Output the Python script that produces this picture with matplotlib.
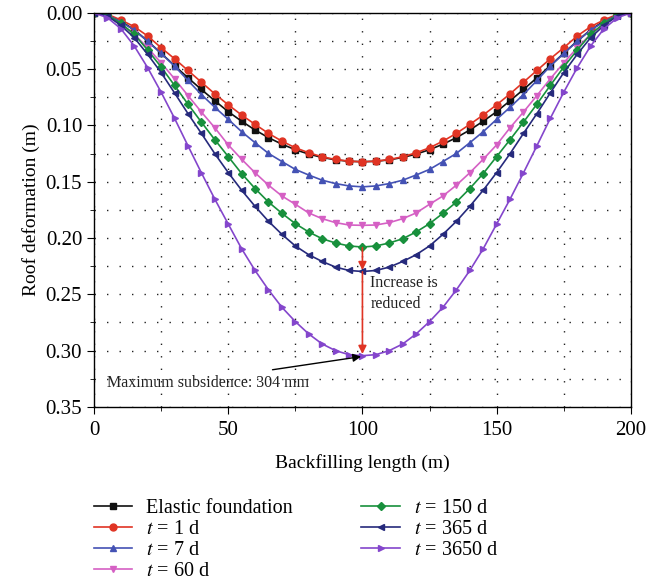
import matplotlib
matplotlib.use("Agg")
import matplotlib.pyplot as plt
from matplotlib.ticker import MultipleLocator, FormatStrFormatter

plt.rcParams["font.family"] = ["Liberation Serif", "DejaVu Serif"]
plt.rcParams["mathtext.fontset"] = "stix"

# backfilling length, one point every 5 m
x = list(range(0, 201, 5))

# roof deformation (m)
elastic = [0.0, 0.0018, 0.0072, 0.0150, 0.0250, 0.0358, 0.0468, 0.0576, 0.0680, 0.0780,
           0.0877, 0.0962, 0.1040, 0.1108, 0.1166, 0.1215, 0.1254, 0.1284, 0.1305, 0.1318,
           0.1322,
           0.1318, 0.1305, 0.1284, 0.1254, 0.1215, 0.1166, 0.1108, 0.1040, 0.0962, 0.0877,
           0.0780, 0.0680, 0.0576, 0.0468, 0.0358, 0.0250, 0.0150, 0.0072, 0.0018, 0.0]
t1 = [0.0, 0.0012, 0.0062, 0.0122, 0.0205, 0.0309, 0.0407, 0.0511, 0.0615, 0.0719,
      0.0816, 0.0907, 0.0990, 0.1070, 0.1139, 0.1198, 0.1242, 0.1278, 0.1302, 0.1317,
      0.1322,
      0.1317, 0.1302, 0.1278, 0.1242, 0.1198, 0.1139, 0.1070, 0.0990, 0.0907, 0.0816,
      0.0719, 0.0615, 0.0511, 0.0407, 0.0309, 0.0205, 0.0122, 0.0062, 0.0012, 0.0]
t7 = [0.0, 0.0018, 0.0080, 0.0152, 0.0252, 0.0360, 0.0472, 0.0600, 0.0725, 0.0838,
      0.0945, 0.1055, 0.1153, 0.1248, 0.1320, 0.1390, 0.1440, 0.1486, 0.1516, 0.1537,
      0.1545,
      0.1537, 0.1516, 0.1486, 0.1440, 0.1390, 0.1320, 0.1248, 0.1153, 0.1055, 0.0945,
      0.0838, 0.0725, 0.0600, 0.0472, 0.0360, 0.0252, 0.0152, 0.0080, 0.0018, 0.0]
t60 = [0.0, 0.0020, 0.0100, 0.0190, 0.0310, 0.0443, 0.0585, 0.0734, 0.0880, 0.1020,
       0.1172, 0.1300, 0.1420, 0.1530, 0.1626, 0.1700, 0.1777, 0.1828, 0.1863, 0.1884,
       0.1887,
       0.1884, 0.1863, 0.1828, 0.1777, 0.1700, 0.1626, 0.1530, 0.1420, 0.1300, 0.1172,
       0.1020, 0.0880, 0.0734, 0.0585, 0.0443, 0.0310, 0.0190, 0.0100, 0.0020, 0.0]
t150 = [0.0, 0.0020, 0.0092, 0.0190, 0.0330, 0.0480, 0.0644, 0.0810, 0.0970, 0.1126,
        0.1276, 0.1427, 0.1560, 0.1680, 0.1780, 0.1872, 0.1946, 0.2006, 0.2044, 0.2070,
        0.2080,
        0.2070, 0.2044, 0.2006, 0.1946, 0.1872, 0.1780, 0.1680, 0.1560, 0.1427, 0.1276,
        0.1126, 0.0970, 0.0810, 0.0644, 0.0480, 0.0330, 0.0190, 0.0092, 0.0020, 0.0]
t365 = [0.0, 0.0027, 0.0110, 0.0220, 0.0368, 0.0530, 0.0710, 0.0894, 0.1070, 0.1250,
        0.1418, 0.1575, 0.1718, 0.1851, 0.1967, 0.2070, 0.2148, 0.2208, 0.2258, 0.2288,
        0.2297,
        0.2288, 0.2258, 0.2208, 0.2148, 0.2070, 0.1967, 0.1851, 0.1718, 0.1575, 0.1418,
        0.1250, 0.1070, 0.0894, 0.0710, 0.0530, 0.0368, 0.0220, 0.0110, 0.0027, 0.0]
t3650 = [0.0, 0.0042, 0.0140, 0.0294, 0.0487, 0.0704, 0.0936, 0.1180, 0.1420, 0.1654,
         0.1875, 0.2095, 0.2288, 0.2460, 0.2615, 0.2742, 0.2852, 0.2941, 0.3000, 0.3036,
         0.3045,
         0.3036, 0.3000, 0.2941, 0.2852, 0.2742, 0.2615, 0.2460, 0.2288, 0.2095, 0.1875,
         0.1654, 0.1420, 0.1180, 0.0936, 0.0704, 0.0487, 0.0294, 0.0140, 0.0042, 0.0]

series = [
    ("Elastic foundation", elastic, "#111111", "s"),
    ("$t$ = 1 d", t1, "#e03424", "o"),
    ("$t$ = 7 d", t7, "#4452b4", "^"),
    ("$t$ = 60 d", t60, "#d560c4", "v"),
    ("$t$ = 150 d", t150, "#18903c", "D"),
    ("$t$ = 365 d", t365, "#262a7c", "<"),
    ("$t$ = 3650 d", t3650, "#8446cc", ">"),
]

fig = plt.figure(figsize=(6.69, 5.88), dpi=100)
ax = fig.add_axes([0.1405, 0.308, 0.8025, 0.670])

for label, vals, color, marker in series:
    ms = 4.0 if marker == "D" else 5.0
    ax.plot(x, vals, color=color, marker=marker, markersize=ms,
            linewidth=1.2, label=label)

ax.set_xlim(0, 200)
ax.set_ylim(0.35, 0.0)
ax.xaxis.set_major_locator(MultipleLocator(50))
ax.xaxis.set_minor_locator(MultipleLocator(25))
ax.yaxis.set_major_locator(MultipleLocator(0.05))
ax.yaxis.set_minor_locator(MultipleLocator(0.025))
ax.yaxis.set_major_formatter(FormatStrFormatter("%.2f"))
ax.tick_params(which="major", direction="out", length=5, labelsize=15)
ax.tick_params(axis="x", which="major", pad=5)
ax.tick_params(which="minor", direction="out", length=3)
ax.grid(which="both", color="#222222", linestyle=(0, (1, 8)), linewidth=1.0)
for s in ax.spines.values():
    s.set_linewidth(1.0)

ax.set_xlabel("Backfilling length (m)", fontsize=14, labelpad=10)
ax.set_ylabel("Roof deformation (m)", fontsize=14, labelpad=4)

# arrows showing reduced increase
ax.annotate("", xy=(100, 0.2285), xytext=(100, 0.2085),
            arrowprops=dict(arrowstyle="-|>", color="#e03424", lw=1.2,
                            shrinkA=0, shrinkB=0, mutation_scale=12))
ax.annotate("", xy=(100, 0.3030), xytext=(100, 0.2300),
            arrowprops=dict(arrowstyle="-|>", color="#e03424", lw=1.2,
                            shrinkA=0, shrinkB=0, mutation_scale=12))
ax.text(103, 0.2495, "Increase is\nreduced", fontsize=11.5, ha="left", va="center",
        color="#222222", linespacing=1.45)

ax.annotate("", xy=(99.5, 0.3053), xytext=(66.5, 0.317),
            arrowprops=dict(arrowstyle="-|>", color="black", lw=1.0,
                            shrinkA=0, shrinkB=0, mutation_scale=12))
ax.text(5, 0.3285, "Maximum subsidence: 304 mm", fontsize=11.5, ha="left",
        va="center", color="#222222")

fig.legend(loc="upper left", bbox_to_anchor=(94 / 669, 1 - 499 / 588), ncol=2,
           frameon=False, fontsize=14.5, borderpad=0, borderaxespad=0,
           handlelength=1.9, handletextpad=0.7, columnspacing=3.4,
           labelspacing=0.1)

fig.savefig("out.png", dpi=100)
